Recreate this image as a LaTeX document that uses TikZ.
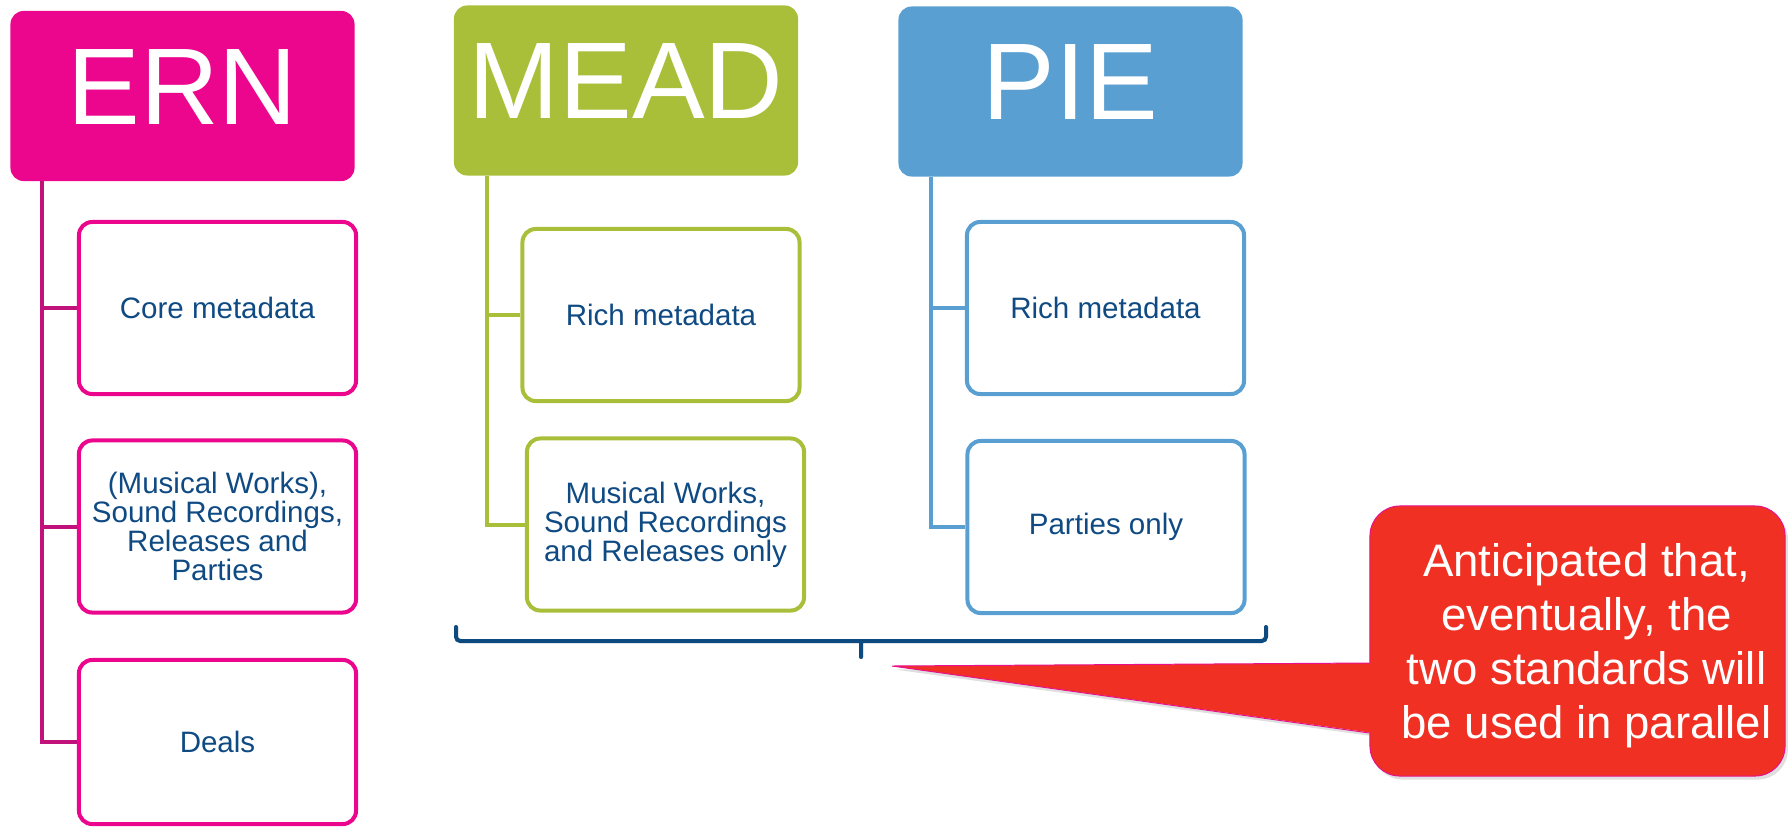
\documentclass[tikz,border=0pt]{standalone}
\usepackage{fontspec}
\setmainfont{Liberation Sans}
\usetikzlibrary{shadows}

\definecolor{ernpink}{HTML}{EC058D}
\definecolor{ernline}{HTML}{C0127A}
\definecolor{meadgreen}{HTML}{A9BF3A}
\definecolor{pieblue}{HTML}{599FD2}
\definecolor{itemtext}{HTML}{0F4A83}
\definecolor{bracketblue}{HTML}{0D4A80}
\definecolor{notered}{HTML}{EF3022}
\definecolor{noteedge}{HTML}{E8108C}

\tikzset{
	head/.style={rounded corners=0.33cm, minimum width=8.6cm, minimum height=4.25cm,
		inner sep=0pt, text=white, text depth=0.45cm, font=\fontsize{77.5}{80}\selectfont},
	item/.style={draw, line width=2.85pt, rounded corners=0.33cm, fill=white,
		minimum width=6.925cm, minimum height=4.3cm, inner sep=0pt, align=center,
		text=itemtext, font=\fontsize{21}{20.6}\selectfont},
	link/.style={line width=2.85pt},
	note/.style={rounded corners=0.75cm, minimum width=10.375cm, minimum height=6.75cm,
		fill=notered, draw=noteedge, line width=0.7pt},
	notetext/.style={align=center, text=white, inner sep=0pt, font=\fontsize{32.4}{38.4}\selectfont},
	soft shadow/.style={drop shadow={opacity=0.25, shadow xshift=2pt, shadow yshift=-2.5pt}}
}

\begin{document}
\begin{tikzpicture}[x=0.025cm, y=-0.025cm]
	\useasboundingbox (0,0) rectangle (1788,829);

	% ERN
	\node[head, fill=ernpink] (ern) at (182.5,96) {ERN};
	\node[item, draw=ernpink] (ern1) at (217.5,308) {Core metadata};
	\node[item, draw=ernpink] (ern2) at (217.5,526.5) {(Musical Works),\\Sound Recordings,\\Releases and\\Parties};
	\node[item, draw=ernpink, minimum height=4.1cm] (ern3) at (217.5,742) {Deals};
	\foreach \n in {ern1,ern2,ern3}
		\draw[link, ernline] ([xshift=0.8cm]ern.south west) |- (\n.west);

	% MEAD
	\node[head, fill=meadgreen] (mead) at (626,90.5) {MEAD};
	\node[item, draw=meadgreen] (mead1) at (661,315) {Rich metadata};
	\node[item, draw=meadgreen] (mead2) at (665.5,524.5) {Musical Works,\\Sound Recordings\\and Releases only};
	\foreach \n in {mead1,mead2}
		\draw[link, meadgreen] ([xshift=0.83cm]mead.south west) |- (\n.west);

	% PIE
	\node[head, fill=pieblue] (pie) at (1070.5,91.5) {PIE};
	\node[item, draw=pieblue] (pie1) at (1105.5,308) {Rich metadata};
	\node[item, draw=pieblue] (pie2) at (1106,527) {Parties only};
	\foreach \n in {pie1,pie2}
		\draw[link, pieblue] ([xshift=0.83cm]pie.south west) |- (\n.west);

	% bracket under MEAD and PIE
	\coordinate (bl) at (456,627);
	\coordinate (br) at (1266,627);
	\coordinate (bm) at (861,641);
	\coordinate (bt) at (861,657);
	\begin{scope}[xshift=1.5pt, yshift=-2pt]
		\draw[black, opacity=0.2, line width=2.85pt, line cap=round, rounded corners=3pt]
			(bl) |- (bm) -| (br) (bm) -- (bt);
	\end{scope}
	\draw[bracketblue, line width=2.85pt, line cap=round, rounded corners=3pt]
		(bl) |- (bm) -| (br) (bm) -- (bt);

	% callout
	\coordinate (tip) at (892,666);
	\path[soft shadow] (tip) -- (1372,663) -- (1372,733) -- cycle;
	\node[note, soft shadow] (callout) at (1577.5,641) {};
	\fill[notered] (tip) -- ([xshift=3pt, yshift=-0.55cm]callout.west)
		-- ([xshift=3pt, yshift=-2.3cm]callout.west) -- cycle;
	\draw[noteedge, line width=0.7pt] ([yshift=-0.55cm]callout.west) -- (tip)
		-- ([yshift=-2.3cm]callout.west);
	\node[notetext] (calltext) at ([xshift=0.225cm, yshift=-0.11cm]callout.center)
		{Anticipated that,\\eventually, the\\two standards will\\be used in parallel};
\end{tikzpicture}
\end{document}
